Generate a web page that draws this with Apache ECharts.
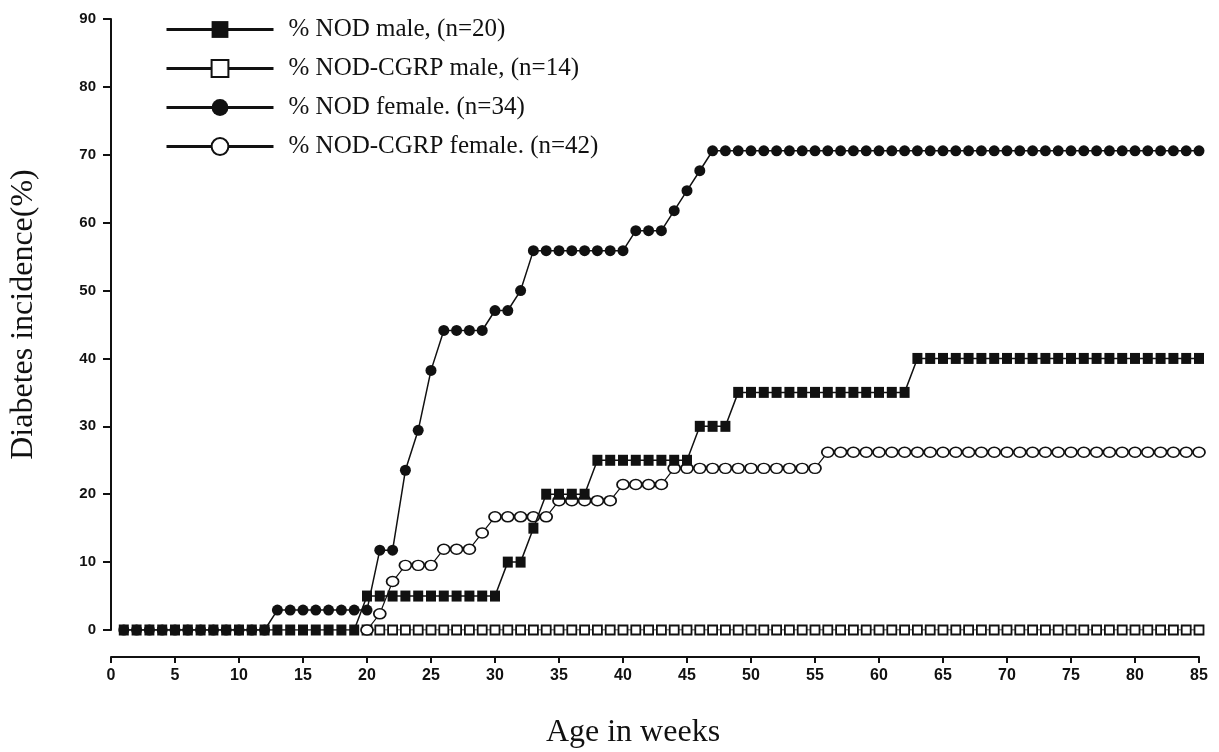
<!DOCTYPE html>
<html>
<head>
<meta charset="utf-8">
<script src="https://cdn.jsdelivr.net/npm/echarts@6/dist/echarts.min.js"></script>
<style>
  html, body { margin: 0; padding: 0; background: #fff; }
  #chart { width: 1219px; height: 752px; }
</style>
</head>
<body>
<div id="chart"></div>
<script>
// ---- data ----
const weeks = [];
for (let w = 1; w <= 85; w++) weeks.push(w);

// % NOD male (n=20): value per week 1..85
const nodMale = [
  0,0,0,0,0,0,0,0,0,0, 0,0,0,0,0,0,0,0,0,          // 1-19
  5,5,5,5,5,5,5,5,5,5,5,                          // 20-30
  10,10,                                          // 31-32
  15,                                             // 33
  20,20,20,20,                                    // 34-37
  25,25,25,25,25,25,25,25,                        // 38-45
  30,30,30,                                       // 46-48
  35,35,35,35,35,35,35,35,35,35,35,35,35,35,      // 49-62
  40,40,40,40,40,40,40,40,40,40,40,40,40,40,40,40,40,40,40,40,40,40,40 // 63-85
];

// % NOD-CGRP male (n=14)
const cgrpMale = [
  null,null,null,null,null,null,null,null,null,null,null,null,null,null,null,null,null,null,null, // 1-19
  0,0,0,0,0,0,0,0,0,0, 0,0,0,0,0,0,0,0,0,0, 0,0,0,0,0,0,0,0,0,0,
  0,0,0,0,0,0,0,0,0,0, 0,0,0,0,0,0,0,0,0,0, 0,0,0,0,0,0,0,0,0,0,
  0,0,0,0,0,0                                                     // 20-85
];

// % NOD female (n=34)
const nodFemale = [
  0,0,0,0,0,0,0,0,0,0,0,0,                        // 1-12
  2.94,2.94,2.94,2.94,2.94,2.94,2.94,2.94,        // 13-20
  11.76,11.76,                                    // 21-22
  23.53,                                          // 23
  29.41,                                          // 24
  38.24,                                          // 25
  44.12,44.12,44.12,44.12,                        // 26-29
  47.06,47.06,                                    // 30-31
  50.0,                                           // 32
  55.88,55.88,55.88,55.88,55.88,55.88,55.88,55.88,// 33-40
  58.82,58.82,58.82,                              // 41-43
  61.76,                                          // 44
  64.71,                                          // 45
  67.65,                                          // 46
  70.59,70.59,70.59,70.59,70.59,70.59,70.59,70.59,70.59,70.59,
  70.59,70.59,70.59,70.59,70.59,70.59,70.59,70.59,70.59,70.59,
  70.59,70.59,70.59,70.59,70.59,70.59,70.59,70.59,70.59,70.59,
  70.59,70.59,70.59,70.59,70.59,70.59,70.59,70.59,70.59   // 47-85
];

// % NOD-CGRP female (n=42)
const cgrpFemale = [
  null,null,null,null,null,null,null,null,null,null,null,null,null,null,null,null,null,null,null, // 1-19
  0,                                              // 20
  2.38,                                           // 21
  7.14,                                           // 22
  9.52,9.52,9.52,                                 // 23-25
  11.90,11.90,11.90,                              // 26-28
  14.29,                                          // 29
  16.67,16.67,16.67,16.67,16.67,                  // 30-34
  19.05,19.05,19.05,19.05,19.05,                  // 35-39
  21.43,21.43,21.43,21.43,                        // 40-43
  23.81,23.81,23.81,23.81,23.81,23.81,23.81,23.81,23.81,23.81,23.81,23.81, // 44-55
  26.19,26.19,26.19,26.19,26.19,26.19,26.19,26.19,26.19,26.19,
  26.19,26.19,26.19,26.19,26.19,26.19,26.19,26.19,26.19,26.19,
  26.19,26.19,26.19,26.19,26.19,26.19,26.19,26.19,26.19,26.19  // 56-85
];

const seriesNames = [
  '% NOD male, (n=20)',
  '% NOD-CGRP male, (n=14)',
  '% NOD female. (n=34)',
  '% NOD-CGRP female. (n=42)'
];

const xTicks = { min: 0, max: 85, interval: 5 };
const yTicks = { min: 0, max: 90, interval: 10 };
const xTitle = 'Age in weeks';
const yTitle = 'Diabetes incidence(%)';

// ---- chart ----
const pairs = arr => weeks.map((w, i) => [w, arr[i]]);

const axisFont = { fontFamily: '"Liberation Sans", Arial, sans-serif', fontWeight: 'bold', fontSize: 15, color: '#111' };
const serif = '"Liberation Serif", "Times New Roman", serif';

const chart = echarts.init(document.getElementById('chart'), null, { renderer: 'canvas' });
chart.setOption({
  backgroundColor: '#ffffff',
  animation: false,
  grid: { left: 111, right: 20, top: 19, bottom: 122, containLabel: false, outerBoundsMode: 'none' },
  legend: {
    orient: 'vertical',
    left: 160,
    top: 12,
    itemWidth: 107,
    itemHeight: 21,
    itemGap: 14,
    textStyle: { fontFamily: serif, fontSize: 25, lineHeight: 25, color: '#111', padding: [0, 0, 0, 10] },
    lineStyle: { width: 3 },
    data: seriesNames
  },
  xAxis: {
    type: 'value',
    min: xTicks.min, max: xTicks.max, interval: xTicks.interval,
    offset: 27,
    name: xTitle,
    nameLocation: 'middle',
    nameGap: 60,
    nameTextStyle: { fontFamily: serif, fontSize: 32, color: '#111', padding: [0, 44, 0, 0] },
    axisLine: { show: true, onZero: false, lineStyle: { color: '#111', width: 2 } },
    axisTick: { show: true, inside: false, length: 6, lineStyle: { color: '#111', width: 2 } },
    axisLabel: Object.assign({ margin: 11 }, axisFont, { fontSize: 16 }),
    splitLine: { show: false }
  },
  yAxis: {
    type: 'value',
    min: yTicks.min, max: yTicks.max, interval: yTicks.interval,
    name: yTitle,
    nameLocation: 'middle',
    nameGap: 71,
    nameRotate: 90,
    nameTextStyle: { fontFamily: serif, fontSize: 32, color: '#111', padding: [0, 0, 0, 20] },
    axisLine: { show: true, lineStyle: { color: '#111', width: 2 } },
    axisTick: { show: true, inside: false, length: 8, lineStyle: { color: '#111', width: 2 } },
    axisLabel: Object.assign({ margin: 15 }, axisFont),
    splitLine: { show: false }
  },
  series: [
    {
      name: seriesNames[0], type: 'line', data: pairs(nodMale), z: 4,
      symbol: 'rect', symbolSize: [10, 11], showAllSymbol: true,
      lineStyle: { color: '#111', width: 1.5 },
      itemStyle: { color: '#111', borderColor: '#111', borderWidth: 0 }
    },
    {
      name: seriesNames[1], type: 'line', data: pairs(cgrpMale), z: 2,
      symbol: 'rect', symbolSize: 9, showAllSymbol: true,
      lineStyle: { color: '#111', width: 1.2 },
      itemStyle: { color: '#ffffff', borderColor: '#111', borderWidth: 1.8 }
    },
    {
      name: seriesNames[2], type: 'line', data: pairs(nodFemale), z: 3,
      symbol: 'circle', symbolSize: 11, showAllSymbol: true,
      lineStyle: { color: '#111', width: 1.5 },
      itemStyle: { color: '#111', borderColor: '#111', borderWidth: 0 }
    },
    {
      name: seriesNames[3], type: 'line', data: pairs(cgrpFemale), z: 3,
      symbol: 'circle', symbolSize: [12, 10], showAllSymbol: true,
      lineStyle: { color: '#111', width: 1.2 },
      itemStyle: { color: '#ffffff', borderColor: '#111', borderWidth: 1.6 }
    }
  ]
});
</script>
</body>
</html>
